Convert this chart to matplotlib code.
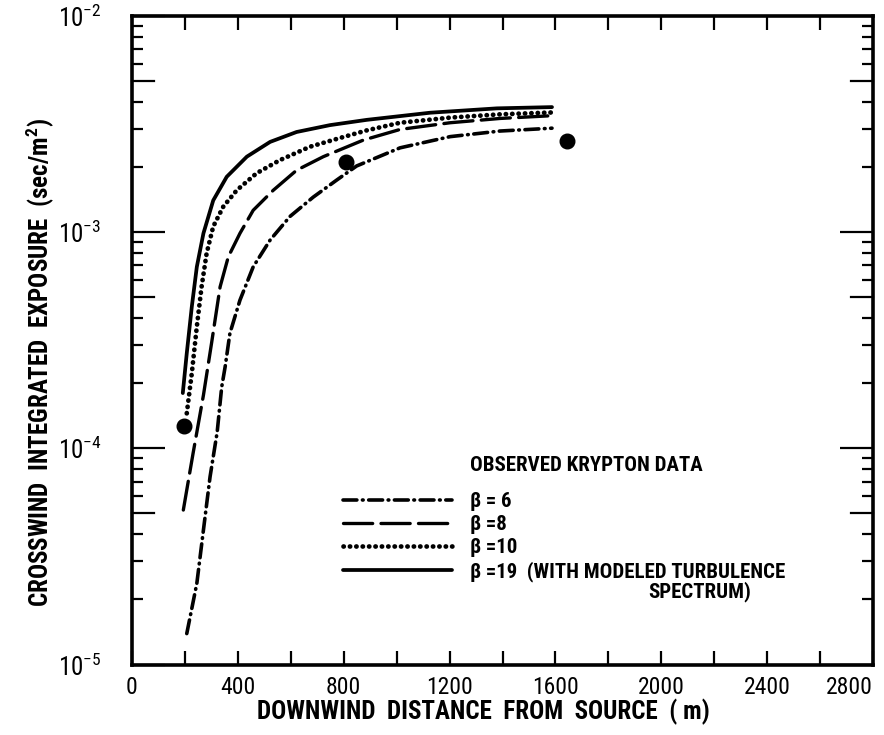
import matplotlib
matplotlib.use('Agg')

import matplotlib.pyplot as plt
import numpy as np
from matplotlib.ticker import FixedLocator, LogLocator, NullFormatter, FuncFormatter

plt.rcParams['font.family'] = ['Roboto Condensed', 'Liberation Sans Narrow', 'Liberation Sans', 'DejaVu Sans']
plt.rcParams['mathtext.default'] = 'regular'
plt.rcParams['lines.scale_dashes'] = False

###############
# data values #
###############
x_b19 = [192, 207, 226, 245, 270, 307, 358, 434, 522, 622, 748, 887, 1126, 1379, 1587]
y_b19 = [1.80e-4, 2.75e-4, 4.51e-4, 6.90e-4, 9.86e-4, 1.40e-3, 1.80e-3, 2.23e-3, 2.61e-3,
         2.90e-3, 3.12e-3, 3.30e-3, 3.56e-3, 3.73e-3, 3.78e-3]

x_b10 = [207, 226, 245, 263, 282, 307, 345, 396, 471, 559, 673, 799, 887, 1013, 1202, 1391, 1587]
y_b10 = [1.45e-4, 2.22e-4, 3.65e-4, 5.58e-4, 7.96e-4, 1.06e-3, 1.31e-3, 1.56e-3, 1.87e-3,
         2.15e-3, 2.48e-3, 2.75e-3, 2.95e-3, 3.20e-3, 3.38e-3, 3.50e-3, 3.57e-3]

x_b8 = [194, 231, 270, 301, 333, 364, 408, 458, 534, 622, 723, 874, 1013, 1202, 1391, 1587]
y_b8 = [5.18e-5, 9.5e-5, 1.76e-4, 3.08e-4, 5.58e-4, 7.68e-4, 9.86e-4, 1.26e-3, 1.56e-3,
        1.93e-3, 2.23e-3, 2.66e-3, 2.98e-3, 3.20e-3, 3.35e-3, 3.45e-3]

x_b6 = [207, 245, 270, 295, 322, 339, 352, 370, 408, 458, 522, 597, 685, 774, 849, 1013, 1202, 1391, 1587]
y_b6 = [1.39e-5, 2.37e-5, 4.19e-5, 7.38e-5, 1.19e-4, 1.92e-4, 2.38e-4, 3.40e-4, 4.84e-4,
        6.90e-4, 9.18e-4, 1.18e-3, 1.45e-3, 1.74e-3, 2.02e-3, 2.45e-3, 2.76e-3, 2.93e-3, 3.02e-3]

x_obs = [198, 810, 1645]
y_obs = [1.27e-4, 2.11e-3, 2.64e-3]

labels = ['\u03b2 = 6', '\u03b2 =8', '\u03b2 =10', '\u03b2 =19  (WITH MODELED TURBULENCE']

xticks_major = [0, 400, 800, 1200, 1600, 2000, 2400, 2800]

##############
# line style #
##############
lw = 2.4
dashdot = (0, (10, 4, 0.5, 4))
longdash = (0, (21, 6))
dotted = (0, (0.2, 4.4))

fig = plt.figure(figsize=(8.84, 7.35), dpi=100)
ax = fig.add_axes([0.1493, 0.0959, 0.8383, 0.8827])

l6, = ax.plot(x_b6, y_b6, color='black', lw=lw + 0.2, linestyle=dashdot, dash_capstyle='round')
l8, = ax.plot(x_b8, y_b8, color='black', lw=lw, linestyle=longdash, dash_capstyle='round')
l10, = ax.plot(x_b10, y_b10, color='black', lw=lw + 1.0, linestyle=dotted, dash_capstyle='round')
l19, = ax.plot(x_b19, y_b19, color='black', lw=lw + 0.3, linestyle='-', solid_capstyle='round')
ax.plot(x_obs, y_obs, 'o', color='black', ms=10.5, linestyle='none')

ax.set_yscale('log')
ax.set_xlim(0, 2800)
ax.set_ylim(1e-5, 1e-2)

#########################
# axes labels and ticks #
#########################
for s in ax.spines.values():
    s.set_linewidth(2.6)

ax.xaxis.set_major_locator(FixedLocator(xticks_major))
ax.xaxis.set_minor_locator(FixedLocator([x + 200 for x in xticks_major[:-1]]))
ax.tick_params(axis='x', which='both', direction='in', top=True, bottom=True,
               length=10, width=1.6, labelsize=17, pad=8)
# last label sits at the right edge
ax.xaxis.get_major_ticks()[-1].label1.set_horizontalalignment('right')

ax.yaxis.set_major_locator(LogLocator(base=10, numticks=10))
ax.yaxis.set_minor_locator(LogLocator(base=10, subs=(2, 3, 4, 6, 7, 8, 9), numticks=20))
ax.yaxis.set_minor_formatter(NullFormatter())
ax.yaxis.set_major_formatter(FuncFormatter(lambda v, p: r'$10^{%d}$' % round(np.log10(v))))
ax.tick_params(axis='y', which='major', direction='in', left=True, right=True,
               length=24, width=1.6, labelsize=18, pad=22)
ax.tick_params(axis='y', which='minor', direction='in', left=True, right=True,
               length=8, width=1.6)

# half decade ticks a bit longer
for dec in [1e-5, 1e-4, 1e-3]:
    for side in [(0, 0.03), (0.97, 1)]:
        ax.plot(side, [5 * dec, 5 * dec], transform=ax.get_yaxis_transform(),
                color='black', lw=1.6, clip_on=False)

ax.set_xlabel('DOWNWIND  DISTANCE  FROM  SOURCE  ( m)', fontsize=18, fontweight='bold', va='center')
ax.xaxis.set_label_coords(0.474, -0.073)
ax.set_ylabel('CROSSWIND  INTEGRATED  EXPOSURE  (sec/m$^2$)', fontsize=18, fontweight='bold', va='center')
ax.yaxis.set_label_coords(-0.124, 0.466)

##########
# legend #
##########
leg = ax.legend([l6, l8, l10, l19], labels, loc='upper left', bbox_to_anchor=(0.285, 0.266),
                frameon=False, borderpad=0, borderaxespad=0, handlelength=5.2,
                handletextpad=0.87, labelspacing=0.2,
                prop={'size': 15, 'weight': 'bold'})
ax.text(0.456, 0.306, 'OBSERVED KRYPTON DATA', transform=ax.transAxes, fontsize=15,
        fontweight='bold', va='center', ha='left')
ax.text(0.696, 0.112, 'SPECTRUM)', transform=ax.transAxes, fontsize=15,
        fontweight='bold', va='center', ha='left')

plt.savefig('out.png', dpi=100)
plt.close()
